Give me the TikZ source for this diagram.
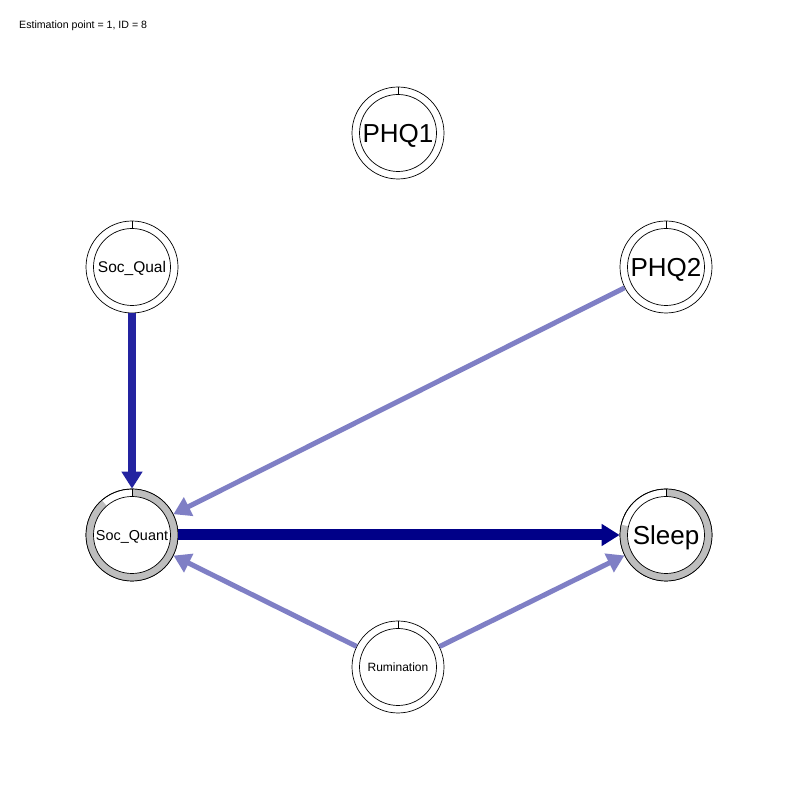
\documentclass[tikz,border=0pt]{standalone}
\usepackage{fontspec}
\setmainfont{Liberation Sans}
\usetikzlibrary{arrows.meta}

\definecolor{edgedark}{RGB}{35,35,160}
\definecolor{edgenavy}{RGB}{0,0,136}
\definecolor{edgelight}{RGB}{127,127,197}
\definecolor{piegray}{RGB}{190,190,190}

% inner circle and top tick of an empty pie ring
\newcommand\plainring[1]{%
  \begin{scope}[shift={(#1.center)}]
    \draw[ringline] (0,0) circle[radius=38.5];
    \draw[ringline] (90:38.5) -- (90:46);
  \end{scope}}
% pie ring filled clockwise from the top, ending at angle #2
\newcommand\fillring[2]{%
  \begin{scope}[shift={(#1.center)}]
    \fill[piegray] (#2:46) arc[start angle=#2, end angle=450, radius=46]
      -- (90:38.5) arc[start angle=450, end angle=#2, radius=38.5] -- cycle;
    \draw[ringline] (0,0) circle[radius=46];
    \draw[ringline] (0,0) circle[radius=38.5];
    \draw[ringline] (90:38.5) -- (90:46);
  \end{scope}}

\begin{document}
\begin{tikzpicture}[x=1pt,y=1pt,
  ringline/.style={draw=black, line width=0.7pt},
  var/.style 2 args={circle, draw=black, line width=0.7pt, minimum size=92pt,
    inner sep=0pt, font=\fontsize{#1}{#1}\selectfont, text height=#2, text depth=0pt},
  edge/.style={line cap=butt, -{Triangle[length=17pt,width=20pt]}},
]
\path[use as bounding box, fill=white] (0,0) rectangle (800,800);

\node[anchor=base west, inner sep=0pt, font=\fontsize{10.6}{12}\selectfont] (title)
  at (19,771) {Estimation point = 1, ID = 8};

\node[var={26}{18.6pt}] (phq1)  at (398,667) {PHQ1};
\node[var={15.5}{11.1pt}] (squal) at (132,533) {Soc\_Qual};
\node[var={26}{18.6pt}] (phq2)  at (666,533) {PHQ2};
\node[var={14.4}{10.3pt}] (squant) at (132,265) {Soc\_Quant};
\node[var={26}{18.6pt}] (sleep) at (666,265) {Sleep};
\node[var={12}{8.6pt}] (rum)   at (398,133) {Rumination};

\plainring{phq1}
\plainring{squal}
\plainring{phq2}
\plainring{rum}
\fillring{squant}{131}
\fillring{sleep}{167}

\draw[edge, line width=8pt, edgedark] (squal) -- (squant);
\draw[edge, line width=11pt, edgenavy, -{Triangle[length=18pt,width=21pt]}] (squant) -- (sleep);
\draw[edge, line width=5pt, edgelight] (phq2) -- (squant);
\draw[edge, line width=5pt, edgelight] (rum) -- (squant);
\draw[edge, line width=5pt, edgelight] (rum) -- (sleep);
\end{tikzpicture}
\end{document}
